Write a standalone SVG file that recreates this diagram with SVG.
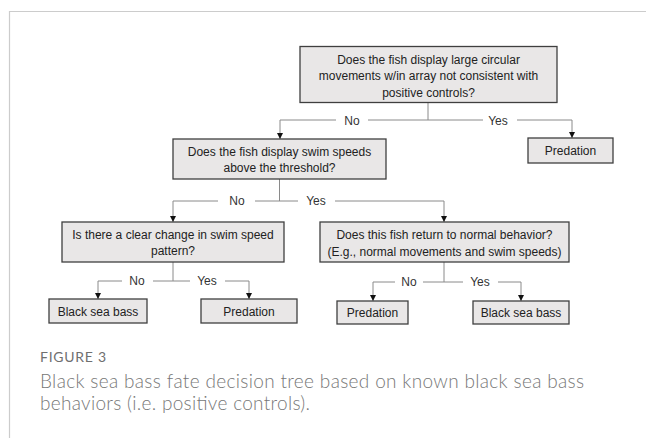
<svg xmlns="http://www.w3.org/2000/svg" width="646" height="438" viewBox="0 0 646 438">
<style>
.box{fill:#e9e7e7;stroke:#3f3f3f;stroke-width:1.3}
.t{font-family:"Liberation Sans",Arial,sans-serif;font-size:12px;fill:#222;text-anchor:middle}
.lbl{font-family:"Liberation Sans",Arial,sans-serif;font-size:12px;fill:#333;text-anchor:middle}
.c{fill:none;stroke:#8a8a8a;stroke-width:1}
.fig{font-family:Lato,"Open Sans",sans-serif;font-size:14px;fill:#6f6f6f}
.cap{font-family:Lato,"Open Sans",sans-serif;font-size:19px;fill:#777;font-weight:300}
</style>
<defs>
<marker id="ah" markerUnits="userSpaceOnUse" markerWidth="6" markerHeight="6" refX="6" refY="3" orient="auto">
<path d="M0,0 L6,3 L0,6 z" fill="#111"/>
</marker>
</defs>
<rect width="646" height="438" fill="#fff"/>
<path d="M9.5,438 V11.5 H646" fill="none" stroke="#cccccc" stroke-width="1.2"/>

<g id="connectors">
<path class="c" d="M428,103 V120"/>
<path class="c" d="M336,120 H280 V139" marker-end="url(#ah)"/>
<path class="c" d="M368,120 H483"/>
<path class="c" d="M517,120 H572 V138" marker-end="url(#ah)"/>
<path class="c" d="M279.5,179 V201"/>
<path class="c" d="M218,201 H173 V222" marker-end="url(#ah)"/>
<path class="c" d="M255,201 H298"/>
<path class="c" d="M335,201 H444 V222" marker-end="url(#ah)"/>
<path class="c" d="M173,262 V281"/>
<path class="c" d="M122,281 H98 V299" marker-end="url(#ah)"/>
<path class="c" d="M153,281 H190"/>
<path class="c" d="M225,281 H249 V299" marker-end="url(#ah)"/>
<path class="c" d="M444,262 V282"/>
<path class="c" d="M395,282 H373 V301" marker-end="url(#ah)"/>
<path class="c" d="M423,282 H463"/>
<path class="c" d="M498,282 H521 V301" marker-end="url(#ah)"/>
<text class="lbl" x="352" y="124.5">No</text>
<text class="lbl" x="498" y="124.5">Yes</text>
<text class="lbl" x="237" y="205">No</text>
<text class="lbl" x="316" y="205">Yes</text>
<text class="lbl" x="137" y="285">No</text>
<text class="lbl" x="207" y="285">Yes</text>
<text class="lbl" x="409" y="286">No</text>
<text class="lbl" x="480" y="286">Yes</text>
</g>

<g id="q1">
<rect class="box" x="300" y="46.5" width="257" height="56"/>
<text class="t" x="428.5" y="63.5">Does the fish display large circular</text>
<text class="t" x="428.5" y="80">movements w/in array not consistent with</text>
<text class="t" x="428.5" y="96.5">positive controls?</text>
</g>
<g id="pred1">
<rect class="box" x="528" y="138" width="85" height="25"/>
<text class="t" x="570.5" y="155">Predation</text>
</g>
<g id="q2">
<rect class="box" x="173" y="139" width="213" height="40"/>
<text class="t" x="279.5" y="156">Does the fish display swim speeds</text>
<text class="t" x="279.5" y="171.5">above the threshold?</text>
</g>
<g id="q3">
<rect class="box" x="62" y="222" width="222" height="40"/>
<text class="t" x="173" y="238.5">Is there a clear change in swim speed</text>
<text class="t" x="173" y="255">pattern?</text>
</g>
<g id="q4">
<rect class="box" x="320" y="222" width="249" height="40"/>
<text class="t" x="444.5" y="239">Does this fish return to normal behavior?</text>
<text class="t" x="444.5" y="256">(E.g., normal movements and swim speeds)</text>
</g>
<g id="bsb1">
<rect class="box" x="49" y="299" width="98" height="24"/>
<text class="t" x="98" y="315.5">Black sea bass</text>
</g>
<g id="pred2">
<rect class="box" x="201" y="299" width="96" height="24"/>
<text class="t" x="249" y="315.5">Predation</text>
</g>
<g id="pred3">
<rect class="box" x="337" y="301" width="71" height="23"/>
<text class="t" x="372.5" y="317">Predation</text>
</g>
<g id="bsb2">
<rect class="box" x="473" y="301" width="96" height="23"/>
<text class="t" x="521" y="317">Black sea bass</text>
</g>

<text class="fig" x="40" y="362" textLength="66" lengthAdjust="spacing">FIGURE 3</text>
<text class="cap" x="40" y="388" textLength="544" lengthAdjust="spacing">Black sea bass fate decision tree based on known black sea bass</text>
<text class="cap" x="40" y="410" textLength="270" lengthAdjust="spacing">behaviors (i.e. positive controls).</text>
</svg>
